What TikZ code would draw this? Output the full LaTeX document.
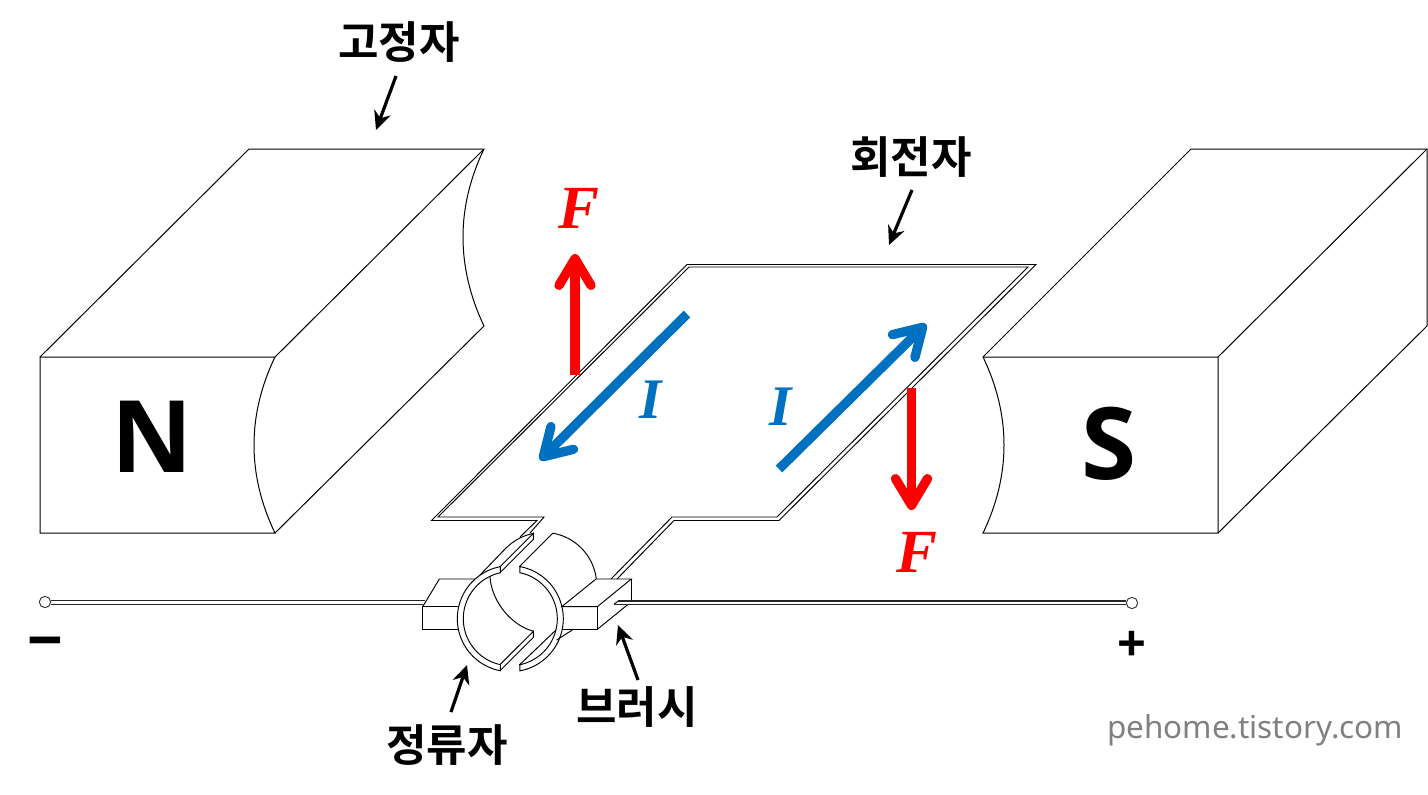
\documentclass[tikz,border=0pt]{standalone}
\usepackage{fontspec}
\usetikzlibrary{arrows.meta}
\setmainfont{Noto Sans}
\newfontfamily\polef{Open Sans}[BoldFont={Open Sans Bold}]
\newfontfamily\krfont{Noto Sans CJK KR}[BoldFont={Noto Sans CJK KR Bold}]
\newfontfamily\timesf{Liberation Serif}
\definecolor{ired}{HTML}{FF0000}
\definecolor{iblue}{HTML}{0070C0}
\tikzset{
  thin line/.style={draw=black,line width=0.72pt,line join=miter},
  body/.style={draw=black,line width=0.75pt,line join=miter},
  wire/.style={draw=black!85,line width=0.85pt},
  bigarrow/.style={line width=7pt,-{Straight Barb[length=20pt,width=24pt,round]}},
  ptr/.style={draw=black,line width=2.4pt,-{Stealth[length=14pt,width=13pt]}},
  klabel/.style={font=\krfont\bfseries\fontsize{33}{33}\selectfont,inner sep=0pt},
  flabel/.style={font=\timesf\bfseries\itshape\fontsize{46}{46}\selectfont,text=ired,inner sep=0pt},
  ilabel/.style={font=\timesf\bfseries\itshape\fontsize{43}{43}\selectfont,text=iblue,inner sep=0pt},
  pole/.style={font=\polef\bfseries\fontsize{75}{75}\selectfont,inner sep=0pt},
  sign/.style={font=\polef\bfseries\fontsize{38}{38}\selectfont,inner sep=0pt},
  terminal/.style={circle,draw=black!80,line width=0.7pt,fill=white,minimum size=8.5pt,inner sep=0pt}
}
\begin{document}
\begin{tikzpicture}[x=0.75pt,y=-0.75pt]
\useasboundingbox (0,0) rectangle (1428,794);
% left magnet
\draw[body] (40,357) -- (275,357) .. controls (247,415) and (247,475) .. (275,533) -- (40,533) -- cycle;
\draw[body] (40,357) -- (249,149) -- (484,149) .. controls (456,207) and (456,267) .. (484,326) -- (275,533);
\draw[body] (275,357) -- (484,149);
% right magnet
\draw[body] (983,357) .. controls (1011,415) and (1011,475) .. (983,533) -- (1218,533) -- (1218,357) -- cycle;
\draw[body] (983,357) -- (1191,149) -- (1427,149) -- (1427,326) -- (1218,533);
\draw[body] (1218,357) -- (1427,149);
% armature loop
\draw[thin line] (530,533) -- (544,517) -- (438,517) -- (689,267) -- (1028,267) -- (777,517) -- (672,517) -- (611,579);
\draw[thin line] (520,537) -- (537,520.5) -- (431.5,520.5) -- (687,264.5) -- (1036,264.5) -- (779,520.5) -- (674,520.5) -- (617,579);
% commutator, back parts
\draw[thin line] (500,566.7) -- (533.3,533.4) -- (533.3,539.5) -- (500,572.8);
\draw[thin line] (480,575) -- (506,548)
  plot[domain=135:100.9,samples=20] ({543.7+53*cos(\x)},{585.4-53*sin(\x)});
\draw[thin line] (490,576.5) .. controls (491,598) and (508,624) .. (533.4,631.3);
\draw[thin line] (500,664.6) -- (533.4,631.3) -- (533.4,637.4) -- (500,670.7);
\draw[thin line] (519.3,566.7) -- (552.7,533.3)
  plot[domain=80:7,samples=30] ({543.7+53*cos(\x)},{585.4-53*sin(\x)});
\draw[thin line] (519.3,665) -- (556,630);
\draw[thin line] (556.7,640) -- (573.3,629.3);
% brushes
\draw[thin line] (458.6,606.7) -- (422.7,606.7) -- (422.7,629.3) -- (458.4,629.3);
\draw[thin line] (422.7,606.7) -- (439.3,579) -- (475.2,579);
\draw[thin line] (561.7,606.7) -- (597.3,606.7) -- (631.3,579) -- (596,579) -- cycle;
\draw[thin line] (597.3,606.7) -- (597.3,629.3) -- (562,629.3);
\draw[thin line] (631.3,579) -- (631.3,600.7);
\draw[thin line] (597.3,629.3) -- (627.3,605);
% commutator front rings
\draw[thin line] plot[domain=100.9:259.1,samples=70] ({510.3+53*cos(\x)},{618.7-53*sin(\x)})
  -- plot[domain=257.7:102.3,samples=70] ({510.3+47*cos(\x)},{618.7-47*sin(\x)}) -- cycle;
\draw[thin line] plot[domain=79.7:-79.7,samples=70] ({510.3+53*cos(\x)},{618.7-53*sin(\x)})
  -- plot[domain=-78.3:78.3,samples=70] ({510.3+47*cos(\x)},{618.7-47*sin(\x)}) -- cycle;
% wires
\node[terminal] (tl) at (45,602) {};
\node[terminal] (tr) at (1132,603) {};
\coordinate (wl1) at (425,600.5);
\coordinate (wl2) at (423,604.3);
\coordinate (wr1) at (618.3,601);
\coordinate (wr2) at (614,604.3);
\draw[wire] (tl.east |- wl1) -- (wl1);
\draw[wire] (tl.east |- wl2) -- (wl2);
\draw[wire] (wr1) -- (tr.west |- wr1);
\draw[wire] (wr2) -- (tr.west |- wr2);
\draw[wire] (wr1) -- (wr2);
% force and current arrows
\coordinate (fa1) at (575,375);  \coordinate (fa2) at (575,254);
\coordinate (fb1) at (911.5,388); \coordinate (fb2) at (911.5,510);
\coordinate (ia1) at (687,314);  \coordinate (ia2) at (540,460);
\coordinate (ib1) at (779,469);  \coordinate (ib2) at (926,324);
\draw[bigarrow,ired] (fa1) -- (fa2);
\draw[bigarrow,ired] (fb1) -- (fb2);
\draw[bigarrow,iblue] (ia1) -- (ia2);
\draw[bigarrow,iblue] (ib1) -- (ib2);
% labels
\node[pole] (n) at (152,437) {N};
\node[pole] (s) at (1109,444) {S};
\node[flabel] (f1) at (579,208) {F};
\node[flabel] (f2) at (917,552) {F};
\node[ilabel] (i1) at (651,400) {I};
\node[ilabel] (i2) at (781,407) {I};
\node[klabel] (k1) at (399,42) {고정자};
\node[klabel] (k2) at (911,157) {회전자};
\node[klabel] (k3) at (447,745) {정류자};
\node[klabel] (k4) at (637,707) {브러시};
\node[sign,font=\polef\bfseries\fontsize{47}{47}\selectfont] (minus) at (45,650) {−};
\node[sign] (plus) at (1132,646) {+};
\node[font=\fontsize{23.6}{24}\selectfont,text=black!50,inner sep=0pt] (wm) at (1255,730) {pehome.tistory.com};
% pointers
\coordinate (p1) at (376,130); \coordinate (p2) at (889,245);
\coordinate (p3) at (467,665); \coordinate (p4) at (618,625);
\draw[ptr] (396,76) -- (p1);
\draw[ptr] (912,190) -- (p2);
\draw[ptr] (451,712) -- (p3);
\draw[ptr] (638,680) -- (p4);
\end{tikzpicture}
\end{document}
